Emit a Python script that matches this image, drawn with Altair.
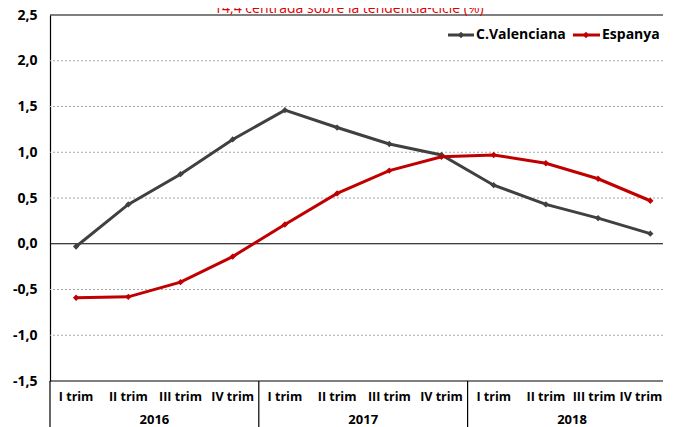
import altair as alt
import pandas as pd

quarters = ["I trim", "II trim", "III trim", "IV trim"] * 3
years = ["2016", "2017", "2018"]
cv = [-0.03, 0.43, 0.76, 1.14, 1.46, 1.27, 1.09, 0.97, 0.64, 0.43, 0.28, 0.11]
esp = [-0.59, -0.58, -0.42, -0.14, 0.21, 0.55, 0.80, 0.95, 0.97, 0.88, 0.71, 0.47]
series = ["C.Valenciana", "Espanya"]
colors = ["#404040", "#c00000"]
title_text = "T4,4 centrada sobre la tendència-cicle (%)"

W, H = 613, 366
STEP = 52.2
FONT = "Open Sans"

rows = []
for i in range(12):
    rows.append({"idx": i, "serie": series[0], "valor": cv[i]})
    rows.append({"idx": i, "serie": series[1], "valor": esp[i]})
df = pd.DataFrame(rows)

xs = alt.Scale(domain=[-0.5, W / STEP - 0.5], nice=False, zero=False)
ys = alt.Scale(domain=[-1.5, 2.5], nice=False, zero=False)

axis_y = alt.Axis(
    values=[-1.5, -1.0, -0.5, 0.0, 0.5, 1.0, 1.5, 2.0, 2.5],
    labelExpr="replace(replace(format(datum.value, '.1f'), '.', ','), '\u2212', '-')",
    grid=False, ticks=False, domain=True, domainColor="#000000", domainWidth=1.2,
    labelFont=FONT, labelFontSize=14, labelFontWeight="bold", labelColor="#000000",
    labelPadding=13, title=None,
)

grid_df = pd.DataFrame({"v": [-1.0, -0.5, 0.5, 1.0, 1.5, 2.0]})
grid = alt.Chart(grid_df).mark_rule(color="#a6a6a6", strokeWidth=1, strokeDash=[2, 2]).encode(
    y=alt.Y("v:Q", scale=ys, axis=axis_y)
)
solid_df = pd.DataFrame({"v": [-1.5, 0.0, 2.5]})
solid = alt.Chart(solid_df).mark_rule(color="#000000", strokeWidth=1.2).encode(
    y=alt.Y("v:Q", scale=ys, axis=axis_y)
)

lines = alt.Chart(df).mark_line(strokeWidth=3).encode(
    x=alt.X("idx:Q", scale=xs, axis=None),
    y=alt.Y("valor:Q", scale=ys, axis=axis_y),
    color=alt.Color("serie:N", scale=alt.Scale(domain=series, range=colors), legend=None),
)
points = alt.Chart(df).mark_point(shape="diamond", filled=True, size=40, opacity=1).encode(
    x=alt.X("idx:Q", scale=xs, axis=None),
    y=alt.Y("valor:Q", scale=ys, axis=axis_y),
    color=alt.Color("serie:N", scale=alt.Scale(domain=series, range=colors), legend=None),
)

# Category table below the plot
sep_df = pd.DataFrame({"s": [-0.5, 3.5, 7.5]})
seps = alt.Chart(sep_df).mark_rule(color="#000000", strokeWidth=1.2).encode(
    x=alt.X("s:Q", scale=xs, axis=None),
    y=alt.value(H),
    y2=alt.value(H + 46),
)
q_df = pd.DataFrame({"idx": list(range(10)), "q": quarters[:10]})
qlabels = alt.Chart(q_df).mark_text(
    font=FONT, fontSize=12.5, fontWeight="bold", color="#000000", baseline="middle"
).encode(x=alt.X("idx:Q", scale=xs, axis=None), y=alt.value(H + 16), text="q:N")
q_10 = alt.Chart(pd.DataFrame({"idx": [10], "q": [quarters[10]]})).mark_text(
    font=FONT, fontSize=12.5, fontWeight="bold", color="#000000", baseline="middle", dx=-4
).encode(x=alt.X("idx:Q", scale=xs, axis=None), y=alt.value(H + 16), text="q:N")
q_last = alt.Chart(pd.DataFrame({"idx": [11], "q": [quarters[11]]})).mark_text(
    font=FONT, fontSize=12.5, fontWeight="bold", color="#000000", baseline="middle",
    align="right", dx=12
).encode(x=alt.X("idx:Q", scale=xs, axis=None), y=alt.value(H + 16), text="q:N")
y_df = pd.DataFrame({"pos": [1.5, 5.5, 9.5], "yr": years})
ylabels = alt.Chart(y_df).mark_text(
    font=FONT, fontSize=13, fontWeight="bold", color="#000000", baseline="middle"
).encode(x=alt.X("pos:Q", scale=xs, axis=None), y=alt.value(H + 39), text="yr:N")

# Title (partly above the visible area, as in the reference)
title = alt.Chart(pd.DataFrame({"t": [title_text]})).mark_text(
    font=FONT, fontSize=14, color="#e00000", baseline="alphabetic", align="center"
).encode(x=alt.value(299), y=alt.value(-2), text="t:N")

# Manual legend
leg_layers = []
leg_pos = [(398, 424, 411, 426), (523, 550, 536, 552)]
for (s, c, (x1, x2, xm, xt)) in zip(series, colors, leg_pos):
    d = pd.DataFrame({"lab": [s]})
    leg_layers.append(alt.Chart(d).mark_rule(color=c, strokeWidth=3).encode(
        x=alt.value(x1), x2=alt.value(x2), y=alt.value(20)))
    leg_layers.append(alt.Chart(d).mark_point(shape="diamond", filled=True, size=40, color=c, opacity=1).encode(
        x=alt.value(xm), y=alt.value(20)))
    leg_layers.append(alt.Chart(d).mark_text(
        font=FONT, fontSize=14, fontWeight="bold", color="#000000", align="left", baseline="middle"
    ).encode(x=alt.value(xt), y=alt.value(20), text="lab:N"))

chart = alt.layer(
    grid, solid, lines, points, seps, qlabels, q_10, q_last, ylabels, title, *leg_layers
).properties(
    width=W, height=H,
    autosize=alt.AutoSizeParams(type="none"),
    padding={"left": 42, "top": 7, "right": 0, "bottom": 46},
).configure_view(stroke=None)

chart.save("out.html", embed_options={"renderer": "svg", "actions": False})
